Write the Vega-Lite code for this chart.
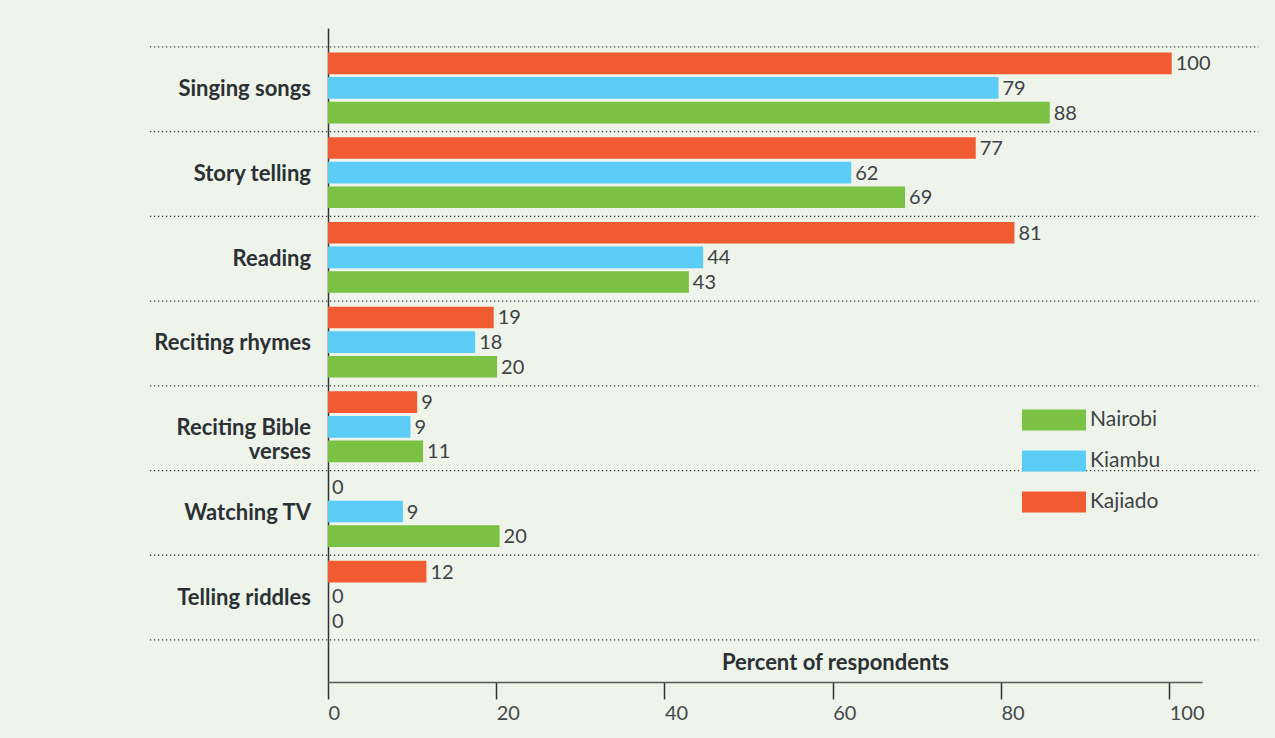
{
  "$schema": "https://vega.github.io/schema/vega-lite/v6.json",
  "width": 874,
  "height": 654,
  "autosize": "none",
  "padding": {"left": 328, "top": 28, "right": 73, "bottom": 56},
  "background": "#eef4e9",
  "config": {
    "view": {"stroke": null},
    "font": "Lato",
    "axisY": {"labels": false, "ticks": false, "title": null, "grid": false, "domainColor": "#2f3338", "domainWidth": 1.5},
    "axisX": {"grid": false}
  },
  "datasets": {
    "bars": [
      {"cat": "Singing songs", "district": "Kajiado", "pct": 100.3, "label": "100"},
      {"cat": "Singing songs", "district": "Kiambu", "pct": 79.7, "label": "79"},
      {"cat": "Singing songs", "district": "Nairobi", "pct": 85.8, "label": "88"},
      {"cat": "Story telling", "district": "Kajiado", "pct": 77.0, "label": "77"},
      {"cat": "Story telling", "district": "Kiambu", "pct": 62.2, "label": "62"},
      {"cat": "Story telling", "district": "Nairobi", "pct": 68.6, "label": "69"},
      {"cat": "Reading", "district": "Kajiado", "pct": 81.6, "label": "81"},
      {"cat": "Reading", "district": "Kiambu", "pct": 44.6, "label": "44"},
      {"cat": "Reading", "district": "Nairobi", "pct": 42.9, "label": "43"},
      {"cat": "Reciting rhymes", "district": "Kajiado", "pct": 19.7, "label": "19"},
      {"cat": "Reciting rhymes", "district": "Kiambu", "pct": 17.5, "label": "18"},
      {"cat": "Reciting rhymes", "district": "Nairobi", "pct": 20.1, "label": "20"},
      {"cat": "Reciting Bible verses", "district": "Kajiado", "pct": 10.6, "label": "9"},
      {"cat": "Reciting Bible verses", "district": "Kiambu", "pct": 9.8, "label": "9"},
      {"cat": "Reciting Bible verses", "district": "Nairobi", "pct": 11.3, "label": "11"},
      {"cat": "Watching TV", "district": "Kajiado", "pct": 0, "label": "0"},
      {"cat": "Watching TV", "district": "Kiambu", "pct": 8.9, "label": "9"},
      {"cat": "Watching TV", "district": "Nairobi", "pct": 20.4, "label": "20"},
      {"cat": "Telling riddles", "district": "Kajiado", "pct": 11.7, "label": "12"},
      {"cat": "Telling riddles", "district": "Kiambu", "pct": 0, "label": "0"},
      {"cat": "Telling riddles", "district": "Nairobi", "pct": 0, "label": "0"}
    ],
    "cats": [
      {"cat": "Singing songs", "text": "Singing songs"},
      {"cat": "Story telling", "text": "Story telling"},
      {"cat": "Reading", "text": "Reading"},
      {"cat": "Reciting rhymes", "text": "Reciting rhymes"},
      {"cat": "Reciting Bible verses", "text": "Reciting Bible\nverses"},
      {"cat": "Watching TV", "text": "Watching TV"},
      {"cat": "Telling riddles", "text": "Telling riddles"}
    ]
  },
  "layer": [
    {
      "data": {"name": "cats"},
      "mark": {"type": "rule", "color": "#3a3e42", "strokeWidth": 1.3, "strokeDash": [1.3, 2.7]},
      "encoding": {
        "y": {"field": "cat", "type": "nominal", "bandPosition": 0,
              "scale": {"domain": ["Singing songs", "Story telling", "Reading", "Reciting rhymes", "Reciting Bible verses", "Watching TV", "Telling riddles"], "paddingInner": 0, "paddingOuter": 0.36, "align": 0.311}},
        "x": {"datum": -21.17, "type": "quantitative", "scale": {"domain": [0, 103.9], "nice": false, "zero": true},
              "axis": {"values": [0, 20, 40, 60, 80, 100], "title": "Percent of respondents", "titleFontWeight": "bold", "titleFontSize": 22, "titleColor": "#2b3035", "titleX": 507, "titleY": -20, "titleBaseline": "middle", "titleAnchor": "middle", "titleAlign": "center", "domainColor": "#55595d", "domainWidth": 1.5, "tickColor": "#2f3338", "tickWidth": 1.5, "tickSize": 17, "labelFontSize": 20, "labelColor": "#44494e", "labelPadding": 4, "labelAlign": "left", "labelFont": "Lato"}},
        "x2": {"datum": 110.6}
      }
    },
    {
      "data": {"name": "cats"},
      "transform": [{"filter": "datum.cat === 'Telling riddles'"}],
      "mark": {"type": "rule", "color": "#3a3e42", "strokeWidth": 1.3, "strokeDash": [1.3, 2.7]},
      "encoding": {
        "y": {"field": "cat", "type": "nominal", "bandPosition": 1,
              "scale": {"domain": ["Singing songs", "Story telling", "Reading", "Reciting rhymes", "Reciting Bible verses", "Watching TV", "Telling riddles"], "paddingInner": 0, "paddingOuter": 0.36, "align": 0.311}},
        "x": {"datum": -21.17, "type": "quantitative", "scale": {"domain": [0, 103.9], "nice": false, "zero": true},
              "axis": {"values": [0, 20, 40, 60, 80, 100], "title": "Percent of respondents", "titleFontWeight": "bold", "titleFontSize": 22, "titleColor": "#2b3035", "titleX": 507, "titleY": -20, "titleBaseline": "middle", "titleAnchor": "middle", "titleAlign": "center", "domainColor": "#55595d", "domainWidth": 1.5, "tickColor": "#2f3338", "tickWidth": 1.5, "tickSize": 17, "labelFontSize": 20, "labelColor": "#44494e", "labelPadding": 4, "labelAlign": "left", "labelFont": "Lato"}},
        "x2": {"datum": 110.6}
      }
    },
    {
      "data": {"name": "bars"},
      "mark": {"type": "bar"},
      "encoding": {
        "y": {"field": "cat", "type": "nominal",
              "scale": {"domain": ["Singing songs", "Story telling", "Reading", "Reciting rhymes", "Reciting Bible verses", "Watching TV", "Telling riddles"], "paddingInner": 0, "paddingOuter": 0.36, "align": 0.311}},
        "yOffset": {"field": "district", "type": "nominal", "scale": {"domain": ["Kajiado", "Kiambu", "Nairobi"], "paddingInner": 0.12, "paddingOuter": 0.28, "align": 0.4}},
        "x": {"field": "pct", "type": "quantitative", "scale": {"domain": [0, 103.9], "nice": false, "zero": true},
              "axis": {"values": [0, 20, 40, 60, 80, 100], "title": "Percent of respondents", "titleFontWeight": "bold", "titleFontSize": 22, "titleColor": "#2b3035", "titleX": 507, "titleY": -20, "titleBaseline": "middle", "titleAnchor": "middle", "titleAlign": "center", "domainColor": "#55595d", "domainWidth": 1.5, "tickColor": "#2f3338", "tickWidth": 1.5, "tickSize": 17, "labelFontSize": 20, "labelColor": "#44494e", "labelPadding": 4, "labelAlign": "left", "labelFont": "Lato"}},
        "color": {"field": "district", "type": "nominal",
                  "scale": {"domain": ["Nairobi", "Kiambu", "Kajiado"], "range": ["#7bc144", "#5bccf6", "#f15b32"]},
                  "legend": {"title": null, "orient": "none", "legendX": 715.5, "legendY": 381.5, "padding": 0,
                             "symbolType": "M-3.05,-1H3.05V1H-3.05Z", "symbolSize": 441, "symbolStrokeWidth": 0, "symbolOpacity": 1,
                             "labelOffset": 25.5, "labelFontSize": 21, "labelColor": "#3d4247", "labelFont": "Lato", "rowPadding": 19}}
      }
    },
    {
      "data": {"name": "bars"},
      "mark": {"type": "text", "align": "left", "baseline": "middle", "dx": 4, "dy": 1, "fontSize": 20, "color": "#3d4247"},
      "encoding": {
        "y": {"field": "cat", "type": "nominal",
              "scale": {"domain": ["Singing songs", "Story telling", "Reading", "Reciting rhymes", "Reciting Bible verses", "Watching TV", "Telling riddles"], "paddingInner": 0, "paddingOuter": 0.36, "align": 0.311}},
        "yOffset": {"field": "district", "type": "nominal", "scale": {"domain": ["Kajiado", "Kiambu", "Nairobi"], "paddingInner": 0.12, "paddingOuter": 0.28, "align": 0.4}},
        "x": {"field": "pct", "type": "quantitative", "scale": {"domain": [0, 103.9], "nice": false, "zero": true},
              "axis": {"values": [0, 20, 40, 60, 80, 100], "title": "Percent of respondents", "titleFontWeight": "bold", "titleFontSize": 22, "titleColor": "#2b3035", "titleX": 507, "titleY": -20, "titleBaseline": "middle", "titleAnchor": "middle", "titleAlign": "center", "domainColor": "#55595d", "domainWidth": 1.5, "tickColor": "#2f3338", "tickWidth": 1.5, "tickSize": 17, "labelFontSize": 20, "labelColor": "#44494e", "labelPadding": 4, "labelAlign": "left", "labelFont": "Lato"}},
        "text": {"field": "label", "type": "nominal"}
      }
    },
    {
      "data": {"name": "cats"},
      "mark": {"type": "text", "align": "right", "baseline": "middle", "dx": -17, "fontSize": 22, "fontWeight": "bold", "color": "#2b3035", "lineBreak": "\n", "lineHeight": 23.5},
      "encoding": {
        "y": {"field": "cat", "type": "nominal",
              "scale": {"domain": ["Singing songs", "Story telling", "Reading", "Reciting rhymes", "Reciting Bible verses", "Watching TV", "Telling riddles"], "paddingInner": 0, "paddingOuter": 0.36, "align": 0.311}},
        "x": {"datum": 0, "type": "quantitative", "scale": {"domain": [0, 103.9], "nice": false, "zero": true},
              "axis": {"values": [0, 20, 40, 60, 80, 100], "title": "Percent of respondents", "titleFontWeight": "bold", "titleFontSize": 22, "titleColor": "#2b3035", "titleX": 507, "titleY": -20, "titleBaseline": "middle", "titleAnchor": "middle", "titleAlign": "center", "domainColor": "#55595d", "domainWidth": 1.5, "tickColor": "#2f3338", "tickWidth": 1.5, "tickSize": 17, "labelFontSize": 20, "labelColor": "#44494e", "labelPadding": 4, "labelAlign": "left", "labelFont": "Lato"}},
        "text": {"field": "text", "type": "nominal"}
      }
    }
  ]
}
